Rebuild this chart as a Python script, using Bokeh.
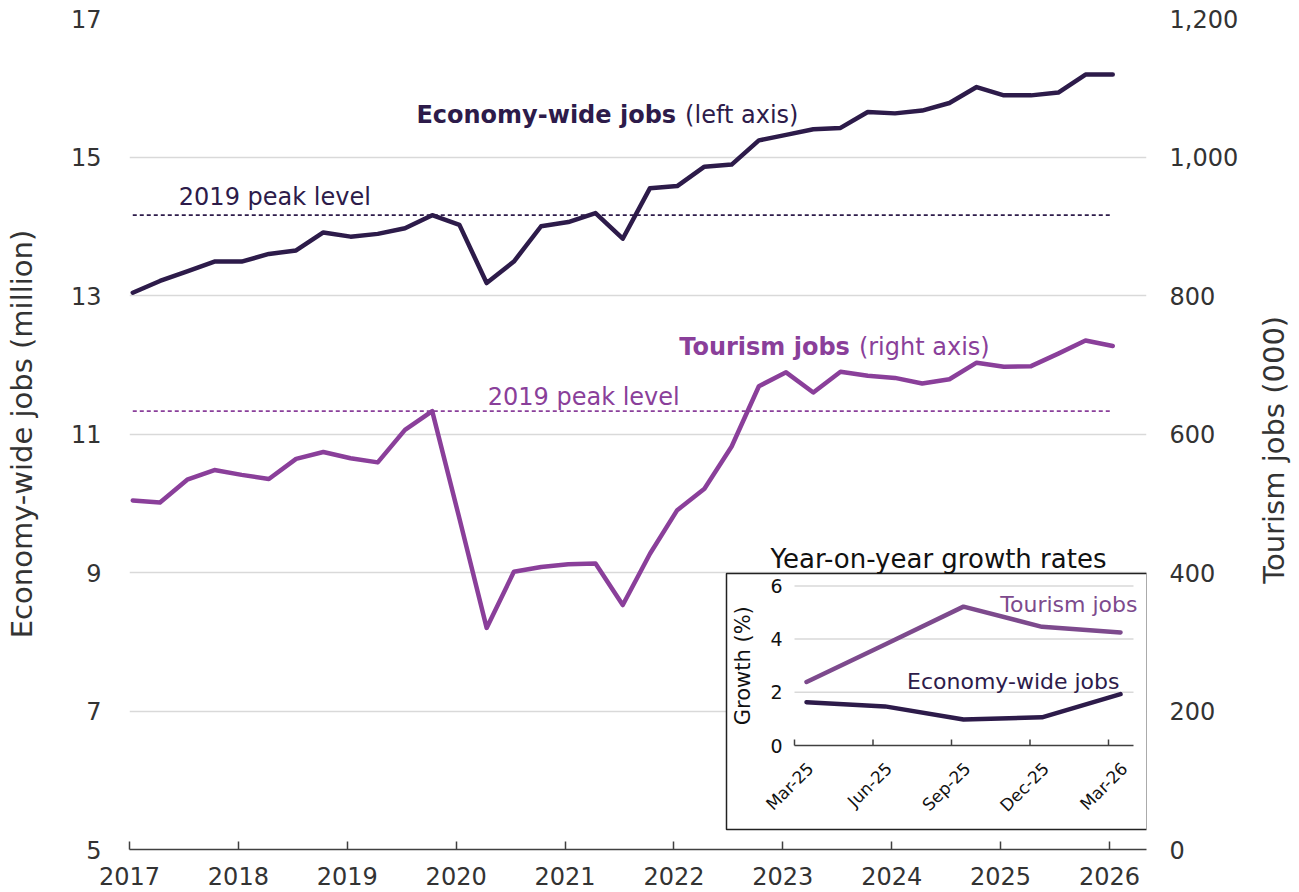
import math
from bokeh.plotting import figure
from bokeh.layouts import row
from bokeh.models import Range1d, LinearAxis, FixedTicker, NumeralTickFormatter, BoxAnnotation
from bokeh.core.properties import value
from bokeh.embed import file_html
from bokeh.resources import INLINE

# ---------------- data ----------------
quarters = ["Mar-17", "Jun-17", "Sep-17", "Dec-17", "Mar-18", "Jun-18", "Sep-18", "Dec-18",
            "Mar-19", "Jun-19", "Sep-19", "Dec-19", "Mar-20", "Jun-20", "Sep-20", "Dec-20",
            "Mar-21", "Jun-21", "Sep-21", "Dec-21", "Mar-22", "Jun-22", "Sep-22", "Dec-22",
            "Mar-23", "Jun-23", "Sep-23", "Dec-23", "Mar-24", "Jun-24", "Sep-24", "Dec-24",
            "Mar-25", "Jun-25", "Sep-25", "Dec-25", "Mar-26"]
economy_jobs = [13.04, 13.21, 13.35, 13.49, 13.49, 13.60, 13.65, 13.91, 13.85, 13.89, 13.97, 14.16,
                14.02, 13.18, 13.49, 14.00, 14.06, 14.19, 13.82, 14.55, 14.58, 14.86, 14.89, 15.24,
                15.32, 15.40, 15.42, 15.65, 15.63, 15.67, 15.78, 16.01, 15.89, 15.89, 15.93, 16.19,
                16.19]
tourism_jobs = [504, 501, 534, 548, 541, 535, 564, 574, 565, 559, 606, 633,
                478, 320, 401, 408, 412, 413, 353, 427, 490, 521, 582, 669,
                689, 660, 690, 684, 681, 673, 679, 703, 697, 698, 716, 735, 727]
year_ticks = [2017, 2018, 2019, 2020, 2021, 2022, 2023, 2024, 2025, 2026]
left_ticks = [5, 7, 9, 11, 13, 15, 17]
right_ticks = [0, 200, 400, 600, 800, 1000, 1200]

inset_labels = ["Mar-25", "Jun-25", "Sep-25", "Dec-25", "Mar-26"]
inset_tourism = [2.39, 3.80, 5.22, 4.46, 4.25]
inset_economy = [1.63, 1.47, 0.98, 1.06, 1.93]
inset_yticks = [0, 2, 4, 6]

# ---------------- styling ----------------
FONT = "DejaVu Sans"
ECON = "#2d1b4a"
TOUR = "#8a3f9a"
TOUR_IN = "#7d4a8d"
GRID = "#d9d9d9"
TXT = "#333333"

W, H = 1252, 892
W2 = 45                                        # strip holding the right-hand axis title
FL, FR, FT, FB = 129, 1146, 18, 849          # frame edges in canvas px

x_start, x_end = 2017.0, 2026.34
y_lo, y_hi = 5, 17
x_pos = [x_start + 0.03 + i * 0.25 for i in range(len(quarters))]

peak_econ = max(economy_jobs[:12])
peak_tour = max(tourism_jobs[:12])

fig = figure(width=W, height=H, x_range=Range1d(x_start, x_end), y_range=Range1d(y_lo, y_hi),
             output_backend="svg", toolbar_location=None,
             min_border_left=FL, min_border_right=W - FR, min_border_top=FT, min_border_bottom=H - FB,
             outline_line_color=None, background_fill_color="white", border_fill_color="white")
fig.extra_y_ranges = {"right": Range1d((y_lo - 5) * 100, (y_hi - 5) * 100)}

xa = fig.xaxis[0]
xa.ticker = FixedTicker(ticks=year_ticks)
xa.major_tick_in = 8
xa.major_tick_out = 0
xa.minor_tick_in = 0
xa.minor_tick_out = 0
xa.axis_line_color = "#404040"
xa.axis_line_width = 1.5
xa.major_tick_line_color = "#404040"
xa.major_tick_line_width = 1.5
xa.major_label_text_font = FONT
xa.major_label_text_font_size = "24px"
xa.major_label_text_color = TXT
xa.major_label_text_line_height = 0.8
xa.major_label_standoff = 17

ya = fig.yaxis[0]
ya.ticker = FixedTicker(ticks=left_ticks)
ya.axis_line_color = None
ya.major_tick_line_color = None
ya.minor_tick_line_color = None
ya.major_label_text_font = FONT
ya.major_label_text_font_size = "24px"
ya.major_label_text_color = TXT
ya.major_label_standoff = 22
ya.axis_label = "Economy-wide jobs (million)"
ya.axis_label_text_font = FONT
ya.axis_label_text_font_size = "29px"
ya.axis_label_text_font_style = "normal"
ya.axis_label_text_color = TXT
ya.axis_label_standoff = 29

ra = LinearAxis(y_range_name="right", ticker=FixedTicker(ticks=right_ticks),
                formatter=NumeralTickFormatter(format="0,0"))
ra.axis_line_color = None
ra.major_tick_line_color = None
ra.minor_tick_line_color = None
ra.major_label_text_font = FONT
ra.major_label_text_font_size = "24px"
ra.major_label_text_color = TXT
ra.major_label_standoff = 17
fig.add_layout(ra, "right")

fig.xgrid.grid_line_color = None
fig.ygrid.ticker = FixedTicker(ticks=left_ticks)
fig.ygrid.grid_line_color = GRID
fig.ygrid.grid_line_width = 1.5

# main series
fig.line(x_pos, economy_jobs, line_color=ECON, line_width=4.5, line_join="round", line_cap="round")
fig.line(x_pos, tourism_jobs, line_color=TOUR, line_width=4.5, line_join="round", line_cap="round",
         y_range_name="right")
fig.line([x_pos[0], x_pos[-1]], [peak_econ, peak_econ], line_color=ECON, line_width=1.8, line_dash="4 3")
fig.line([x_pos[0], x_pos[-1]], [peak_tour, peak_tour], line_color=TOUR, line_width=1.8, line_dash="4 3",
         y_range_name="right")

# annotations on main chart
fig.text(x=[2022.02], y=[15.60], text=["Economy-wide jobs"], text_font=value(FONT), text_font_size="24px",
         text_font_style="bold", text_color=ECON, text_align="right", text_baseline="alphabetic")
fig.text(x=[2022.02], y=[15.60], text=["(left axis)"], text_font=value(FONT), text_font_size="24px",
         text_color=ECON, text_align="left", text_baseline="alphabetic", x_offset=9)
fig.text(x=[2023.616], y=[725.8], text=["Tourism jobs"], text_font=value(FONT), text_font_size="24px",
         text_font_style="bold", text_color=TOUR, text_align="right", text_baseline="alphabetic",
         y_range_name="right")
fig.text(x=[2023.616], y=[725.8], text=["(right axis)"], text_font=value(FONT), text_font_size="24px",
         text_color=TOUR, text_align="left", text_baseline="alphabetic", x_offset=9, y_range_name="right")
fig.text(x=[2017.453], y=[14.426], text=["2019 peak level"], text_font=value(FONT), text_font_size="24px",
         text_color=ECON, text_align="left", text_baseline="alphabetic")
fig.text(x=[2020.29], y=[653.5], text=["2019 peak level"], text_font=value(FONT), text_font_size="24px",
         text_color=TOUR, text_align="left", text_baseline="alphabetic", y_range_name="right")

# ---------------- inset (drawn on its own ranges inside the frame) ----------------
ix0, ipx = 794, 78.5          # canvas x of inset value 0, px per category
iy0, ipy = 745, 26.6          # canvas y of inset value 0, px per percent
fig.extra_x_ranges = {"ix": Range1d(-(ix0 - FL) / ipx, (FR - ix0) / ipx)}
fig.extra_y_ranges["iy"] = Range1d(-(FB - iy0) / ipy, (iy0 - FT) / ipy)

def ixv(px):
    return (px - ix0) / ipx

def iyv(py):
    return (iy0 - py) / ipy

box = BoxAnnotation(left=ixv(726), right=ixv(1146.5), top=iyv(573), bottom=iyv(829),
                    x_range_name="ix", y_range_name="iy", fill_color="white", fill_alpha=1.0,
                    line_color="#222222", line_width=1.5, line_alpha=1.0, level="annotation")
fig.add_layout(box)

inset_xend = ixv(1133)
n_in = len(inset_labels)
in_x = [i + 0.153 for i in range(n_in)]
kw = dict(x_range_name="ix", y_range_name="iy", level="overlay")

fig.segment(x0=[0] * 3, x1=[inset_xend] * 3, y0=inset_yticks[1:], y1=inset_yticks[1:],
            line_color=GRID, line_width=1.5, **kw)
fig.segment(x0=[0], x1=[inset_xend], y0=[0], y1=[0], line_color="#404040", line_width=1.5, **kw)
fig.segment(x0=list(range(n_in)), x1=list(range(n_in)), y0=[0] * n_in, y1=[6 / ipy] * n_in,
            line_color="#404040", line_width=1.5, **kw)
fig.line(in_x, inset_tourism, line_color=TOUR_IN, line_width=4.5, line_join="round", line_cap="round", **kw)
fig.line(in_x, inset_economy, line_color=ECON, line_width=4.5, line_join="round", line_cap="round", **kw)

fig.text(x=[0] * len(inset_yticks), y=inset_yticks, text=[str(t) for t in inset_yticks],
         text_font=value(FONT), text_font_size="19px", text_color="#111111", text_align="right",
         text_baseline="middle", x_offset=-12, **kw)
fig.text(x=in_x, y=[0] * n_in, text=inset_labels, text_font=value(FONT), text_font_size="17px",
         text_color="#111111", text_align="right", text_baseline="middle", angle=math.pi / 4,
         y_offset=20, x_offset=4, **kw)
fig.text(x=[0], y=[3], text=["Growth (%)"], text_font=value(FONT), text_font_size="21px",
         text_color="#111111", text_align="center", text_baseline="middle", angle=math.pi / 2,
         x_offset=-52, **kw)
fig.text(x=[ixv(938)], y=[iyv(558)], text=["Year-on-year growth rates"], text_font=value(FONT),
         text_font_size="26px", text_color="#111111", text_align="center", text_baseline="alphabetic", **kw)
fig.text(x=[ixv(1137)], y=[iyv(603.5)], text=["Tourism jobs"], text_font=value(FONT),
         text_font_size="22px", text_color=TOUR_IN, text_align="right", text_baseline="alphabetic", **kw)
fig.text(x=[ixv(1119)], y=[iyv(681)], text=["Economy-wide jobs"], text_font=value(FONT),
         text_font_size="22px", text_color=ECON, text_align="right", text_baseline="alphabetic", **kw)

# ---------------- right-hand axis title strip ----------------
title_fig = figure(width=W2, height=H, x_range=Range1d(0, W2), y_range=Range1d(H, 0),
                   x_axis_type=None, y_axis_type=None, output_backend="svg", toolbar_location=None,
                   min_border=0, outline_line_color=None, background_fill_color="white",
                   border_fill_color="white")
title_fig.grid.visible = False
title_fig.text(x=[21], y=[463], text=["Tourism jobs (000)"], text_font=value(FONT), text_font_size="29px",
               text_color=TXT, text_align="center", text_baseline="middle", angle=math.pi / 2)

p = row(fig, title_fig)
open("out.html", "w").write(file_html(p, INLINE))
